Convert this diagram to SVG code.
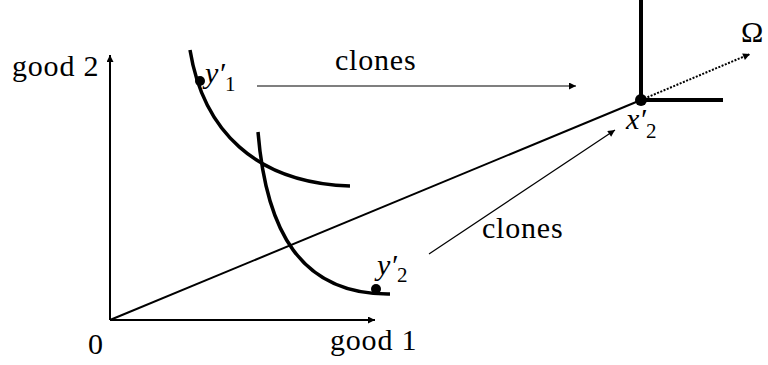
<svg xmlns="http://www.w3.org/2000/svg" width="768" height="365" viewBox="0 0 768 365">
<defs>
<style>
.t{font-family:'Liberation Serif','DejaVu Serif',serif;font-size:30px;fill:#000;letter-spacing:0.8px}
.it{font-style:italic;letter-spacing:0}
.sub{font-size:21px;font-style:normal}
.ax{stroke:#000;stroke-width:2;fill:none}
.thin{stroke:#000;stroke-width:1.2;fill:none}
.curve{stroke:#000;stroke-width:3.5;fill:none}
</style>
<marker id="ah" viewBox="0 0 10 10" refX="10" refY="5" markerWidth="10" markerHeight="7" markerUnits="userSpaceOnUse" orient="auto">
<path d="M0,0 L10,5 L0,10 z" fill="#000"/>
</marker>
</defs>
<rect width="768" height="365" fill="#fff"/>
<g id="connectors">
<line class="ax" x1="110" y1="320" x2="110" y2="55" marker-end="url(#ah)"/>
<line class="ax" x1="110" y1="320" x2="375" y2="320" marker-end="url(#ah)"/>
<line class="ax" x1="110" y1="320" x2="641" y2="100"/>
<line class="ax" x1="641" y1="100" x2="750" y2="54" stroke-dasharray="2,1.5" marker-end="url(#ah)"/>
<line class="thin" x1="257" y1="86" x2="576" y2="86" marker-end="url(#ah)"/>
<line class="thin" x1="429" y1="254" x2="615" y2="130" marker-end="url(#ah)"/>
</g>
<g id="indiff1">
<path class="curve" d="M190,50 C203,130 255,183 350,186"/>
<circle cx="200" cy="81" r="5"/>
<text x="205" y="83" class="t it">y′<tspan class="sub" dy="8">1</tspan></text>
</g>
<g id="indiff2">
<path class="curve" d="M258,132 C266,230 300,295 390,294"/>
<circle cx="376" cy="289" r="5"/>
<text x="377" y="275" class="t it">y′<tspan class="sub" dy="7">2</tspan></text>
</g>
<g id="leontief">
<path d="M641,0 L641,100 L723,100" stroke="#000" stroke-width="4" fill="none"/>
<circle cx="641" cy="100" r="6"/>
<text x="626" y="129" class="t it">x′<tspan class="sub" dy="9">2</tspan></text>
</g>
<g id="labels">
<text class="t" x="12" y="76">good 2</text>
<text class="t" x="330" y="350">good 1</text>
<text class="t" x="88" y="354">0</text>
<text class="t" x="741" y="42">Ω</text>
<text class="t" x="335" y="70">clones</text>
<text class="t" x="482" y="238">clones</text>
</g>
</svg>
